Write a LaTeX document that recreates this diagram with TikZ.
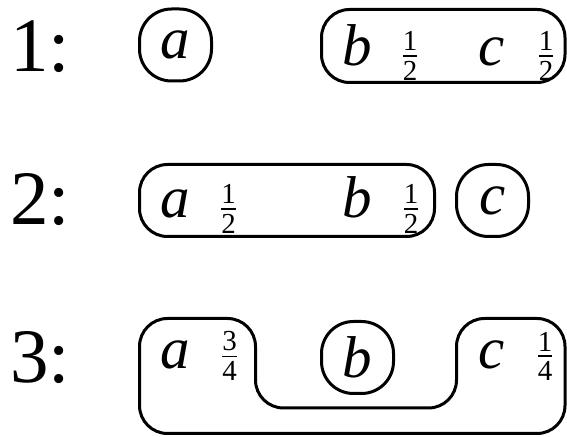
\documentclass[tikz,border=0pt]{standalone}
\usepackage{fontspec}
\setmainfont{Liberation Serif}
\newcommand{\fr}[2]{$\vcenter{\hbox{#1}\kern2.2pt\hrule height 0.6pt\kern2.2pt\hbox{#2}}$}
\begin{document}
\begin{tikzpicture}[x=0.5pt, y=-0.5pt, line width=1.5pt,
  ring/.style={draw, rounded corners=16pt, minimum size=36pt, inner sep=0pt,
    font=\fontsize{29.5}{29.5}\selectfont\itshape},
  letter/.style={anchor=base, inner sep=0pt, font=\fontsize{29.5}{29.5}\selectfont\itshape},
  share/.style={inner sep=0pt, font=\fontsize{14.5}{14.5}\selectfont},
  rowno/.style={anchor=base west, inner sep=0pt, font=\fontsize{38.5}{38.5}\selectfont},
  group/.style={rounded corners=14pt}]
\useasboundingbox (0,0) rectangle (567,437);
% row 1
\node[rowno] (r1) at (9,72) {1:};
\node[ring] (a1) at (175.5,45) {a};
\draw[group] (321.5,9.5) rectangle (565,82.5);
\node[letter] (b1) at (357,66) {b};
\node[share] (b1w) at (410,56) {\fr{1}{2}};
\node[letter] (c1) at (492,66) {c};
\node[share] (c1w) at (546,56) {\fr{1}{2}};
% row 2
\node[rowno] (r2) at (9,225) {2:};
\draw[group] (139.5,164.5) rectangle (434.5,236.5);
\node[letter] (a2) at (175,218) {a};
\node[share] (a2w) at (228.5,209) {\fr{1}{2}};
\node[letter] (b2) at (357,218) {b};
\node[share] (b2w) at (411,209) {\fr{1}{2}};
\node[ring] (c2) at (492.5,200.5) {c};
% row 3
\node[rowno] (r3) at (9,383) {3:};
\draw[group] (200,318.5) -- (255.5,318.5) -- (255.5,408) -- (456.5,408)
  -- (456.5,318.5) -- (565,318.5) -- (565,433.5) -- (139.5,433.5)
  -- (139.5,318.5) -- cycle;
\node[letter] (a3) at (175,369) {a};
\node[share] (a3w) at (229.5,356) {\fr{3}{4}};
\node[ring] (b3) at (357.5,357.5) {b};
\node[letter] (c3) at (492,369) {c};
\node[share] (c3w) at (545,356) {\fr{1}{4}};
\end{tikzpicture}
\end{document}
